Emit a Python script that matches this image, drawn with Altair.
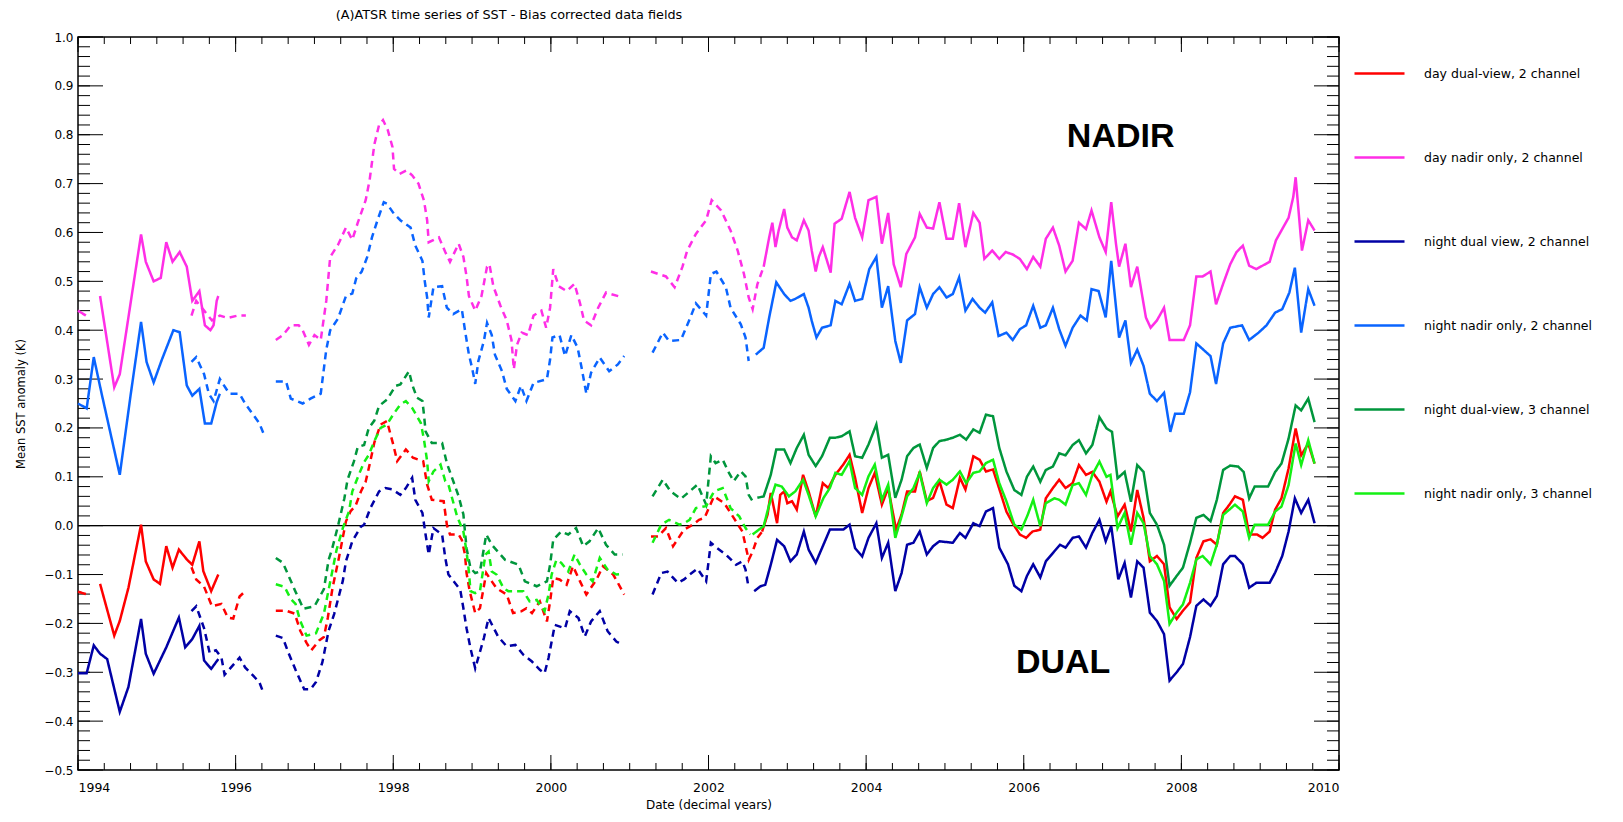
import altair as alt
import pandas as pd
import numpy as np

# ---------------- data (year, anomaly K) ----------------
TITLE = "(A)ATSR time series of SST - Bias corrected data fields"
SERIES_NAMES = [
    "day dual-view, 2 channel",
    "day nadir only, 2 channel",
    "night dual view, 2 channel",
    "night nadir only, 2 channel",
    "night dual-view, 3 channel",
    "night nadir only, 3 channel",
]
SERIES_COLORS = ["#ff0000", "#ff2ee6", "#0000a5", "#0a64ff", "#00963c", "#14f014"]

RED = [
    ("solid", [(1994.0, -0.135), (1994.1, -0.14)]),
    ("solid", [(1994.28, -0.119), (1994.46, -0.225), (1994.53, -0.195), (1994.64, -0.127), (1994.8, 0.002),
               (1994.86, -0.073), (1994.96, -0.11), (1995.04, -0.119), (1995.12, -0.042), (1995.2, -0.086),
               (1995.28, -0.049), (1995.38, -0.069), (1995.45, -0.08), (1995.54, -0.032), (1995.59, -0.093),
               (1995.69, -0.134), (1995.78, -0.1)]),
    ("dashed", [(1995.44, -0.085), (1995.5, -0.11), (1995.6, -0.125), (1995.7, -0.165), (1995.82, -0.16),
                (1995.9, -0.188), (1995.97, -0.19), (1996.05, -0.145), (1996.13, -0.133)]),
    ("dashed", [(1996.51, -0.174), (1996.64, -0.174), (1996.75, -0.18), (1996.82, -0.215), (1996.9, -0.24),
                (1996.96, -0.255), (1997.06, -0.235), (1997.12, -0.228), (1997.17, -0.188), (1997.23, -0.127),
                (1997.31, -0.066), (1997.4, 0.009), (1997.46, 0.03), (1997.52, 0.04), (1997.59, 0.07),
                (1997.65, 0.09), (1997.7, 0.125), (1997.76, 0.17), (1997.84, 0.207), (1997.92, 0.214),
                (1998.0, 0.166), (1998.05, 0.132), (1998.16, 0.156), (1998.25, 0.139), (1998.38, 0.132),
                (1998.43, 0.084), (1998.49, 0.053), (1998.64, 0.05), (1998.68, 0.002), (1998.72, -0.018),
                (1998.83, -0.018), (1998.87, -0.029), (1998.91, -0.059), (1998.93, -0.097), (1998.97, -0.134),
                (1999.04, -0.179), (1999.1, -0.169), (1999.18, -0.097), (1999.25, -0.114), (1999.31, -0.128),
                (1999.44, -0.141), (1999.52, -0.179), (1999.63, -0.175), (1999.69, -0.169), (1999.76, -0.179),
                (1999.86, -0.155), (1999.95, -0.196), (1999.99, -0.155), (2000.03, -0.107), (2000.11, -0.11),
                (2000.2, -0.121), (2000.28, -0.083), (2000.37, -0.114), (2000.45, -0.141), (2000.58, -0.11),
                (2000.66, -0.083), (2000.79, -0.1), (2000.85, -0.117), (2000.93, -0.141)]),
    ("dashed", [(2001.27, -0.022), (2001.36, -0.022), (2001.46, -0.005), (2001.55, -0.042), (2001.69, -0.008),
                (2001.8, 0.002), (2001.88, 0.012), (2001.95, 0.016), (2002.07, 0.06), (2002.2, 0.046),
                (2002.32, 0.016), (2002.43, -0.012), (2002.51, -0.07), (2002.56, -0.053), (2002.62, -0.025),
                (2002.68, -0.012)]),
    ("solid", [(2002.68, -0.012), (2002.75, 0.023), (2002.79, 0.067), (2002.83, 0.036), (2002.87, 0.005),
               (2002.91, 0.063), (2002.96, 0.07), (2003.0, 0.046), (2003.06, 0.05), (2003.12, 0.033),
               (2003.2, 0.104), (2003.27, 0.07), (2003.36, 0.019), (2003.45, 0.087), (2003.52, 0.077),
               (2003.61, 0.104), (2003.71, 0.125), (2003.79, 0.145), (2003.86, 0.098), (2003.95, 0.026),
               (2004.03, 0.077), (2004.11, 0.108), (2004.2, 0.043), (2004.28, 0.077), (2004.38, -0.008),
               (2004.45, 0.023), (2004.52, 0.07), (2004.62, 0.07), (2004.68, 0.111), (2004.77, 0.05),
               (2004.85, 0.057), (2004.93, 0.091), (2005.02, 0.043), (2005.1, 0.036), (2005.19, 0.098),
               (2005.26, 0.074), (2005.36, 0.142), (2005.44, 0.135), (2005.52, 0.111), (2005.61, 0.115),
               (2005.69, 0.075), (2005.78, 0.029), (2005.86, 0.005), (2005.95, -0.018), (2006.03, -0.025),
               (2006.11, -0.012), (2006.21, -0.008), (2006.28, 0.056), (2006.37, 0.077), (2006.45, 0.094),
               (2006.53, 0.077), (2006.62, 0.087), (2006.7, 0.124), (2006.79, 0.104), (2006.87, 0.11),
               (2006.96, 0.09), (2007.05, 0.049), (2007.1, 0.07), (2007.19, 0.019), (2007.28, 0.043),
               (2007.36, -0.012), (2007.44, 0.073), (2007.52, 0.016), (2007.6, -0.073), (2007.69, -0.062),
               (2007.78, -0.079), (2007.85, -0.167), (2007.94, -0.191), (2008.02, -0.174), (2008.11, -0.157),
               (2008.19, -0.066), (2008.28, -0.032), (2008.37, -0.028), (2008.45, -0.039), (2008.53, 0.026),
               (2008.61, 0.043), (2008.68, 0.06), (2008.78, 0.053), (2008.86, -0.018), (2008.96, -0.018),
               (2009.03, -0.025), (2009.12, -0.012), (2009.19, 0.033), (2009.27, 0.056), (2009.36, 0.117),
               (2009.45, 0.199), (2009.52, 0.144), (2009.61, 0.168), (2009.69, 0.127)]),
]

MAGENTA = [
    ("solid", [(1994.0, 0.44), (1994.1, 0.43)]),
    ("solid", [(1994.28, 0.47), (1994.46, 0.283), (1994.53, 0.31), (1994.8, 0.596), (1994.86, 0.54),
               (1994.96, 0.50), (1995.05, 0.507), (1995.12, 0.58), (1995.2, 0.54), (1995.29, 0.56),
               (1995.38, 0.53), (1995.45, 0.46), (1995.54, 0.48), (1995.61, 0.41), (1995.68, 0.40),
               (1995.72, 0.41), (1995.76, 0.46), (1995.78, 0.47)]),
    ("dashed", [(1995.44, 0.43), (1995.5, 0.46), (1995.6, 0.44), (1995.7, 0.42), (1995.8, 0.43),
                (1995.9, 0.425), (1996.03, 0.43), (1996.13, 0.43)]),
    ("dashed", [(1996.51, 0.38), (1996.6, 0.39), (1996.7, 0.41), (1996.8, 0.41), (1996.85, 0.40),
                (1996.93, 0.37), (1997.0, 0.39), (1997.08, 0.38), (1997.15, 0.46), (1997.2, 0.55),
                (1997.3, 0.575), (1997.4, 0.61), (1997.48, 0.585), (1997.55, 0.62), (1997.65, 0.666),
                (1997.7, 0.707), (1997.76, 0.78), (1997.82, 0.82), (1997.87, 0.83), (1997.93, 0.81),
                (1997.99, 0.775), (1998.01, 0.73), (1998.08, 0.72), (1998.17, 0.727), (1998.24, 0.717),
                (1998.32, 0.70), (1998.39, 0.665), (1998.43, 0.625), (1998.45, 0.58), (1998.58, 0.59),
                (1998.66, 0.56), (1998.72, 0.54), (1998.83, 0.577), (1998.89, 0.55), (1998.93, 0.51),
                (1998.96, 0.47), (1999.04, 0.44), (1999.12, 0.47), (1999.19, 0.53), (1999.22, 0.535),
                (1999.27, 0.49), (1999.36, 0.45), (1999.44, 0.42), (1999.5, 0.38), (1999.53, 0.32),
                (1999.57, 0.37), (1999.63, 0.395), (1999.71, 0.39), (1999.78, 0.43), (1999.88, 0.44),
                (1999.94, 0.405), (1999.99, 0.446), (2000.03, 0.525), (2000.1, 0.49), (2000.2, 0.48),
                (2000.3, 0.495), (2000.37, 0.455), (2000.42, 0.42), (2000.51, 0.41), (2000.6, 0.446),
                (2000.7, 0.477), (2000.91, 0.467)]),
    ("dashed", [(2001.27, 0.52), (2001.46, 0.51), (2001.57, 0.488), (2001.67, 0.53), (2001.73, 0.563),
                (2001.84, 0.597), (2001.97, 0.625), (2002.04, 0.666), (2002.16, 0.645), (2002.28, 0.604),
                (2002.37, 0.563), (2002.45, 0.515), (2002.51, 0.467), (2002.56, 0.443), (2002.62, 0.494),
                (2002.7, 0.53)]),
    ("solid", [(2002.7, 0.53), (2002.77, 0.59), (2002.81, 0.62), (2002.85, 0.57), (2002.89, 0.604),
               (2002.96, 0.648), (2003.0, 0.61), (2003.06, 0.59), (2003.12, 0.584), (2003.21, 0.625),
               (2003.27, 0.604), (2003.31, 0.563), (2003.36, 0.52), (2003.4, 0.55), (2003.45, 0.57),
               (2003.55, 0.518), (2003.6, 0.618), (2003.69, 0.628), (2003.79, 0.683), (2003.86, 0.63),
               (2003.95, 0.59), (2004.03, 0.666), (2004.13, 0.673), (2004.2, 0.577), (2004.28, 0.64),
               (2004.35, 0.535), (2004.44, 0.488), (2004.51, 0.556), (2004.62, 0.59), (2004.68, 0.638),
               (2004.77, 0.61), (2004.85, 0.608), (2004.93, 0.662), (2005.02, 0.587), (2005.1, 0.587),
               (2005.18, 0.66), (2005.26, 0.57), (2005.36, 0.64), (2005.44, 0.62), (2005.5, 0.546),
               (2005.6, 0.563), (2005.69, 0.546), (2005.77, 0.56), (2005.86, 0.555), (2005.95, 0.546),
               (2006.04, 0.525), (2006.12, 0.55), (2006.21, 0.53), (2006.28, 0.587), (2006.37, 0.61),
               (2006.45, 0.573), (2006.53, 0.52), (2006.62, 0.542), (2006.7, 0.62), (2006.79, 0.607),
               (2006.86, 0.645), (2006.96, 0.59), (2007.04, 0.56), (2007.11, 0.662), (2007.17, 0.577),
               (2007.21, 0.53), (2007.29, 0.577), (2007.36, 0.488), (2007.44, 0.53), (2007.55, 0.426),
               (2007.61, 0.405), (2007.69, 0.42), (2007.78, 0.446), (2007.85, 0.38), (2008.03, 0.38),
               (2008.11, 0.41), (2008.19, 0.51), (2008.27, 0.51), (2008.37, 0.52), (2008.44, 0.453),
               (2008.53, 0.495), (2008.62, 0.535), (2008.7, 0.56), (2008.78, 0.573), (2008.86, 0.532),
               (2008.95, 0.525), (2009.12, 0.54), (2009.2, 0.584), (2009.36, 0.63), (2009.42, 0.673),
               (2009.45, 0.713), (2009.53, 0.563), (2009.61, 0.625), (2009.69, 0.604)]),
]

NAVY = [
    ("solid", [(1994.0, -0.302), (1994.11, -0.302), (1994.2, -0.245), (1994.28, -0.262), (1994.37, -0.273),
               (1994.53, -0.381), (1994.64, -0.33), (1994.8, -0.191), (1994.86, -0.262), (1994.96, -0.303),
               (1995.12, -0.249), (1995.28, -0.188), (1995.36, -0.249), (1995.45, -0.232), (1995.54, -0.205),
               (1995.6, -0.276), (1995.69, -0.293), (1995.78, -0.273)]),
    ("dashed", [(1995.44, -0.175), (1995.5, -0.165), (1995.6, -0.21), (1995.67, -0.26), (1995.75, -0.255),
                (1995.82, -0.27), (1995.86, -0.305), (1996.05, -0.27), (1996.12, -0.29), (1996.3, -0.32),
                (1996.36, -0.345)]),
    ("dashed", [(1996.51, -0.225), (1996.6, -0.23), (1996.67, -0.26), (1996.76, -0.295), (1996.87, -0.335),
                (1996.95, -0.335), (1997.02, -0.32), (1997.1, -0.28), (1997.18, -0.215), (1997.25, -0.181),
                (1997.36, -0.113), (1997.4, -0.073), (1997.48, -0.032), (1997.59, -0.002), (1997.63, 0.002),
                (1997.71, 0.036), (1997.82, 0.07), (1997.9, 0.077), (1997.99, 0.074), (1998.09, 0.063),
                (1998.16, 0.077), (1998.24, 0.098), (1998.28, 0.053), (1998.37, 0.026), (1998.41, -0.018),
                (1998.45, -0.059), (1998.51, -0.005), (1998.62, -0.018), (1998.66, -0.066), (1998.7, -0.1),
                (1998.85, -0.131), (1998.89, -0.169), (1998.93, -0.21), (1998.98, -0.251), (1999.04, -0.292),
                (1999.09, -0.264), (1999.15, -0.23), (1999.21, -0.189), (1999.33, -0.227), (1999.44, -0.247),
                (1999.55, -0.244), (1999.65, -0.264), (1999.76, -0.278), (1999.86, -0.295), (1999.92, -0.302),
                (1999.97, -0.271), (2000.01, -0.237), (2000.05, -0.203), (2000.18, -0.21), (2000.24, -0.175),
                (2000.35, -0.189), (2000.43, -0.227), (2000.51, -0.196), (2000.62, -0.175), (2000.72, -0.216),
                (2000.83, -0.237), (2000.91, -0.244)]),
    ("dashed", [(2001.29, -0.141), (2001.4, -0.097), (2001.48, -0.094), (2001.61, -0.117), (2001.69, -0.11),
                (2001.76, -0.1), (2001.86, -0.088), (2001.97, -0.114), (2002.03, -0.035), (2002.11, -0.046),
                (2002.22, -0.059), (2002.35, -0.08), (2002.43, -0.073), (2002.47, -0.09), (2002.51, -0.128)]),
    ("solid", [(2002.58, -0.134), (2002.66, -0.124), (2002.72, -0.121), (2002.79, -0.08), (2002.87, -0.029),
               (2002.96, -0.042), (2003.04, -0.073), (2003.12, -0.059), (2003.21, -0.012), (2003.27, -0.049),
               (2003.36, -0.076), (2003.44, -0.046), (2003.54, -0.008), (2003.71, -0.008), (2003.79, 0.002),
               (2003.86, -0.046), (2003.95, -0.063), (2004.03, -0.025), (2004.13, 0.005), (2004.2, -0.066),
               (2004.28, -0.035), (2004.37, -0.134), (2004.45, -0.097), (2004.52, -0.039), (2004.6, -0.035),
               (2004.68, -0.012), (2004.77, -0.059), (2004.85, -0.042), (2004.93, -0.032), (2005.1, -0.035),
               (2005.19, -0.015), (2005.26, -0.025), (2005.36, 0.005), (2005.44, -0.001), (2005.52, 0.029),
               (2005.61, 0.036), (2005.69, -0.045), (2005.8, -0.079), (2005.88, -0.123), (2005.97, -0.134),
               (2006.04, -0.103), (2006.12, -0.079), (2006.21, -0.106), (2006.28, -0.073), (2006.37, -0.056),
               (2006.46, -0.039), (2006.53, -0.045), (2006.62, -0.025), (2006.7, -0.022), (2006.79, -0.045),
               (2006.87, -0.015), (2006.96, 0.012), (2007.04, -0.032), (2007.11, -0.001), (2007.2, -0.11),
               (2007.28, -0.076), (2007.36, -0.147), (2007.44, -0.073), (2007.52, -0.086), (2007.6, -0.178),
               (2007.69, -0.195), (2007.78, -0.222), (2007.85, -0.317), (2007.94, -0.3), (2008.02, -0.283),
               (2008.11, -0.228), (2008.19, -0.164), (2008.28, -0.151), (2008.37, -0.164), (2008.45, -0.144),
               (2008.53, -0.079), (2008.62, -0.062), (2008.68, -0.062), (2008.78, -0.079), (2008.86, -0.127),
               (2008.95, -0.117), (2009.12, -0.117), (2009.19, -0.096), (2009.28, -0.062), (2009.36, -0.012),
               (2009.44, 0.056), (2009.52, 0.026), (2009.61, 0.053), (2009.69, 0.005)]),
]

SKY = [
    ("solid", [(1994.0, 0.25), (1994.11, 0.24), (1994.2, 0.345), (1994.3, 0.27), (1994.53, 0.104),
               (1994.67, 0.27), (1994.8, 0.417), (1994.87, 0.335), (1994.96, 0.293), (1995.06, 0.338),
               (1995.21, 0.40), (1995.29, 0.396), (1995.38, 0.287), (1995.45, 0.266), (1995.54, 0.28),
               (1995.61, 0.209), (1995.69, 0.209), (1995.76, 0.253), (1995.8, 0.27)]),
    ("dashed", [(1995.44, 0.335), (1995.5, 0.345), (1995.6, 0.31), (1995.66, 0.27), (1995.72, 0.255),
                (1995.8, 0.30), (1995.92, 0.27), (1996.05, 0.27), (1996.12, 0.25), (1996.3, 0.21),
                (1996.35, 0.19)]),
    ("dashed", [(1996.51, 0.295), (1996.64, 0.295), (1996.7, 0.26), (1996.85, 0.25), (1996.95, 0.26),
                (1997.08, 0.27), (1997.15, 0.36), (1997.2, 0.40), (1997.3, 0.424), (1997.4, 0.47),
                (1997.48, 0.475), (1997.53, 0.506), (1997.6, 0.52), (1997.67, 0.55), (1997.73, 0.59),
                (1997.8, 0.625), (1997.88, 0.662), (1997.92, 0.659), (1998.01, 0.638), (1998.09, 0.625),
                (1998.22, 0.61), (1998.28, 0.573), (1998.37, 0.542), (1998.4, 0.5), (1998.43, 0.467),
                (1998.45, 0.426), (1998.51, 0.488), (1998.62, 0.49), (1998.68, 0.446), (1998.76, 0.433),
                (1998.87, 0.443), (1998.91, 0.4), (1998.96, 0.35), (1999.0, 0.323), (1999.04, 0.29),
                (1999.08, 0.337), (1999.15, 0.378), (1999.19, 0.415), (1999.25, 0.39), (1999.29, 0.35),
                (1999.38, 0.316), (1999.44, 0.28), (1999.55, 0.255), (1999.62, 0.286), (1999.69, 0.255),
                (1999.78, 0.292), (1999.95, 0.3), (1999.99, 0.34), (2000.02, 0.385), (2000.11, 0.39),
                (2000.18, 0.347), (2000.26, 0.39), (2000.34, 0.364), (2000.39, 0.323), (2000.45, 0.27),
                (2000.51, 0.313), (2000.62, 0.344), (2000.74, 0.316), (2000.85, 0.33), (2000.93, 0.347)]),
    ("dashed", [(2001.29, 0.354), (2001.42, 0.395), (2001.5, 0.378), (2001.65, 0.38), (2001.76, 0.422),
                (2001.84, 0.455), (2001.97, 0.43), (2002.03, 0.515), (2002.1, 0.52), (2002.22, 0.488),
                (2002.28, 0.446), (2002.41, 0.412), (2002.47, 0.385), (2002.51, 0.337)]),
    ("solid", [(2002.6, 0.35), (2002.7, 0.364), (2002.77, 0.426), (2002.86, 0.498), (2002.96, 0.474),
               (2003.04, 0.46), (2003.1, 0.464), (2003.21, 0.474), (2003.27, 0.446), (2003.31, 0.419),
               (2003.37, 0.385), (2003.44, 0.405), (2003.55, 0.41), (2003.61, 0.46), (2003.69, 0.453),
               (2003.79, 0.495), (2003.86, 0.46), (2003.95, 0.464), (2004.04, 0.525), (2004.13, 0.55),
               (2004.2, 0.446), (2004.28, 0.49), (2004.37, 0.378), (2004.44, 0.333), (2004.52, 0.42),
               (2004.62, 0.433), (2004.68, 0.488), (2004.77, 0.446), (2004.85, 0.474), (2004.93, 0.488),
               (2005.02, 0.467), (2005.1, 0.474), (2005.18, 0.508), (2005.26, 0.44), (2005.35, 0.464),
               (2005.44, 0.446), (2005.51, 0.436), (2005.6, 0.457), (2005.68, 0.388), (2005.78, 0.395),
               (2005.86, 0.38), (2005.95, 0.402), (2006.03, 0.41), (2006.12, 0.45), (2006.21, 0.405),
               (2006.28, 0.41), (2006.37, 0.446), (2006.45, 0.402), (2006.53, 0.368), (2006.62, 0.405),
               (2006.72, 0.43), (2006.8, 0.42), (2006.86, 0.484), (2006.95, 0.48), (2007.04, 0.426),
               (2007.11, 0.542), (2007.21, 0.385), (2007.29, 0.42), (2007.36, 0.333), (2007.44, 0.36),
               (2007.52, 0.327), (2007.6, 0.27), (2007.69, 0.255), (2007.78, 0.272), (2007.86, 0.192),
               (2007.92, 0.229), (2008.03, 0.229), (2008.11, 0.273), (2008.19, 0.373), (2008.37, 0.347),
               (2008.44, 0.29), (2008.53, 0.373), (2008.62, 0.405), (2008.77, 0.41), (2008.86, 0.38),
               (2008.98, 0.395), (2009.08, 0.41), (2009.19, 0.436), (2009.28, 0.443), (2009.37, 0.477),
               (2009.44, 0.528), (2009.52, 0.395), (2009.61, 0.484), (2009.69, 0.45)]),
]

GREEN = [
    ("dashed", [(1996.51, -0.066), (1996.6, -0.076), (1996.76, -0.135), (1996.86, -0.17), (1997.0, -0.165),
                (1997.12, -0.13), (1997.18, -0.07), (1997.22, -0.05), (1997.3, 0.0), (1997.38, 0.056),
                (1997.42, 0.094), (1997.5, 0.131), (1997.55, 0.161), (1997.63, 0.165), (1997.69, 0.2),
                (1997.76, 0.215), (1997.82, 0.245), (1997.92, 0.258), (1998.03, 0.286), (1998.09, 0.289),
                (1998.2, 0.316), (1998.24, 0.289), (1998.3, 0.262), (1998.37, 0.255), (1998.39, 0.227),
                (1998.41, 0.193), (1998.49, 0.169), (1998.62, 0.169), (1998.68, 0.128), (1998.83, 0.06),
                (1998.89, 0.023), (1998.91, -0.012), (1998.93, -0.046), (1998.98, -0.087), (1999.04, -0.097),
                (1999.1, -0.094), (1999.18, -0.018), (1999.25, -0.039), (1999.42, -0.07), (1999.59, -0.08),
                (1999.67, -0.114), (1999.82, -0.124), (1999.95, -0.114), (1999.99, -0.08), (2000.03, -0.029),
                (2000.13, -0.012), (2000.22, -0.018), (2000.32, -0.005), (2000.41, -0.042), (2000.49, -0.032),
                (2000.6, -0.005), (2000.7, -0.039), (2000.81, -0.059), (2000.91, -0.059)]),
    ("dashed", [(2001.29, 0.06), (2001.42, 0.094), (2001.52, 0.07), (2001.65, 0.055), (2001.76, 0.07),
                (2001.86, 0.084), (2001.97, 0.043), (2002.03, 0.142), (2002.09, 0.128), (2002.18, 0.135),
                (2002.26, 0.108), (2002.32, 0.091), (2002.41, 0.111), (2002.47, 0.101), (2002.51, 0.063),
                (2002.56, 0.05)]),
    ("solid", [(2002.62, 0.057), (2002.7, 0.06), (2002.79, 0.104), (2002.86, 0.156), (2002.96, 0.156),
               (2003.04, 0.128), (2003.12, 0.159), (2003.21, 0.186), (2003.27, 0.145), (2003.36, 0.122),
               (2003.44, 0.142), (2003.54, 0.18), (2003.61, 0.18), (2003.69, 0.183), (2003.79, 0.193),
               (2003.86, 0.142), (2003.95, 0.139), (2004.03, 0.166), (2004.13, 0.207), (2004.2, 0.139),
               (2004.28, 0.145), (2004.37, 0.057), (2004.45, 0.094), (2004.52, 0.142), (2004.6, 0.159),
               (2004.68, 0.166), (2004.77, 0.118), (2004.85, 0.159), (2004.93, 0.173), (2005.02, 0.176),
               (2005.1, 0.18), (2005.19, 0.186), (2005.27, 0.176), (2005.36, 0.197), (2005.44, 0.19),
               (2005.52, 0.227), (2005.61, 0.224), (2005.69, 0.159), (2005.78, 0.111), (2005.88, 0.073),
               (2005.97, 0.063), (2006.04, 0.1), (2006.12, 0.121), (2006.21, 0.09), (2006.28, 0.114),
               (2006.37, 0.121), (2006.45, 0.148), (2006.53, 0.144), (2006.62, 0.165), (2006.7, 0.175),
               (2006.79, 0.148), (2006.87, 0.165), (2006.96, 0.222), (2007.05, 0.199), (2007.12, 0.192),
               (2007.19, 0.097), (2007.28, 0.11), (2007.36, 0.049), (2007.44, 0.124), (2007.52, 0.11),
               (2007.6, 0.026), (2007.69, 0.002), (2007.78, -0.039), (2007.85, -0.123), (2007.94, -0.103),
               (2008.02, -0.086), (2008.11, -0.035), (2008.19, 0.016), (2008.28, 0.022), (2008.37, 0.009),
               (2008.45, 0.053), (2008.53, 0.114), (2008.62, 0.123), (2008.72, 0.121), (2008.79, 0.11),
               (2008.86, 0.056), (2008.93, 0.08), (2009.1, 0.08), (2009.19, 0.11), (2009.27, 0.127),
               (2009.36, 0.178), (2009.45, 0.246), (2009.52, 0.236), (2009.61, 0.26), (2009.69, 0.212)]),
]

LIME = [
    ("dashed", [(1996.51, -0.12), (1996.62, -0.125), (1996.7, -0.15), (1996.76, -0.16), (1996.82, -0.195),
                (1996.9, -0.225), (1997.02, -0.22), (1997.12, -0.18), (1997.2, -0.115), (1997.28, -0.05),
                (1997.36, -0.005), (1997.44, 0.03), (1997.48, 0.07), (1997.57, 0.107), (1997.63, 0.13),
                (1997.69, 0.145), (1997.76, 0.173), (1997.84, 0.2), (1997.92, 0.207), (1998.01, 0.23),
                (1998.09, 0.248), (1998.16, 0.255), (1998.24, 0.241), (1998.35, 0.21), (1998.39, 0.176),
                (1998.43, 0.132), (1998.45, 0.091), (1998.51, 0.111), (1998.6, 0.125), (1998.66, 0.091),
                (1998.7, 0.084), (1998.81, 0.019), (1998.89, -0.012), (1998.93, -0.053), (1998.96, -0.094),
                (1998.98, -0.134), (1999.04, -0.138), (1999.1, -0.134), (1999.17, -0.059), (1999.21, -0.053),
                (1999.25, -0.094), (1999.31, -0.1), (1999.4, -0.128), (1999.46, -0.134), (1999.55, -0.134),
                (1999.65, -0.134), (1999.73, -0.155), (1999.82, -0.152), (1999.92, -0.175), (1999.97, -0.141),
                (2000.01, -0.1), (2000.07, -0.07), (2000.13, -0.076), (2000.22, -0.094), (2000.3, -0.059),
                (2000.37, -0.08), (2000.45, -0.1), (2000.53, -0.114), (2000.62, -0.066), (2000.72, -0.09),
                (2000.83, -0.1), (2000.91, -0.099)]),
    ("dashed", [(2001.29, -0.035), (2001.4, 0.002), (2001.5, 0.012), (2001.63, 0.002), (2001.69, 0.005),
                (2001.76, 0.012), (2001.84, 0.036), (2001.97, 0.04), (2002.07, 0.07), (2002.18, 0.077),
                (2002.28, 0.036), (2002.39, 0.019), (2002.47, -0.005), (2002.53, -0.018)]),
    ("solid", [(2002.56, -0.018), (2002.64, -0.008), (2002.7, -0.001), (2002.77, 0.043), (2002.85, 0.084),
               (2002.93, 0.08), (2003.02, 0.06), (2003.1, 0.07), (2003.2, 0.094), (2003.27, 0.063),
               (2003.36, 0.019), (2003.46, 0.057), (2003.54, 0.077), (2003.61, 0.108), (2003.69, 0.104),
               (2003.79, 0.132), (2003.86, 0.077), (2003.95, 0.063), (2004.03, 0.101), (2004.11, 0.125),
               (2004.2, 0.053), (2004.28, 0.084), (2004.37, -0.025), (2004.45, 0.019), (2004.52, 0.06),
               (2004.6, 0.077), (2004.68, 0.108), (2004.77, 0.046), (2004.85, 0.077), (2004.93, 0.094),
               (2005.02, 0.084), (2005.1, 0.094), (2005.19, 0.111), (2005.27, 0.087), (2005.36, 0.108),
               (2005.44, 0.111), (2005.52, 0.128), (2005.61, 0.135), (2005.69, 0.087), (2005.78, 0.05),
               (2005.88, 0.002), (2005.97, -0.008), (2006.05, 0.022), (2006.12, 0.053), (2006.21, -0.001),
               (2006.28, 0.046), (2006.39, 0.056), (2006.45, 0.053), (2006.53, 0.043), (2006.62, 0.083),
               (2006.7, 0.087), (2006.79, 0.063), (2006.87, 0.104), (2006.96, 0.131), (2007.05, 0.1),
               (2007.1, 0.104), (2007.19, -0.005), (2007.28, 0.026), (2007.36, -0.039), (2007.44, 0.026),
               (2007.52, 0.005), (2007.6, -0.062), (2007.69, -0.079), (2007.78, -0.113), (2007.85, -0.201),
               (2007.94, -0.178), (2008.02, -0.161), (2008.11, -0.117), (2008.19, -0.069), (2008.27, -0.062),
               (2008.37, -0.079), (2008.45, -0.039), (2008.53, 0.022), (2008.61, 0.033), (2008.68, 0.043),
               (2008.78, 0.029), (2008.86, -0.025), (2008.93, 0.002), (2009.1, 0.002), (2009.19, 0.029),
               (2009.27, 0.039), (2009.36, 0.083), (2009.45, 0.168), (2009.52, 0.124), (2009.61, 0.175),
               (2009.69, 0.127)]),
]

X_LABEL_YEARS = [1994, 1996, 1998, 2000, 2002, 2004, 2006, 2008, 2010]
Y_LABEL_VALUES = [-0.5, -0.4, -0.3, -0.2, -0.1, 0.0, 0.1, 0.2, 0.3, 0.4, 0.5, 0.6, 0.7, 0.8, 0.9, 1.0]
ANNOTATIONS = [("NADIR", 2007.23, 0.795), ("DUAL", 2006.5, -0.281)]

# ---------------- build tables ----------------
ALL_SERIES = [RED, MAGENTA, NAVY, SKY, GREEN, LIME]
frames = []
for name, segs in zip(SERIES_NAMES, ALL_SERIES):
    rows = []
    for i, (style, pts) in enumerate(segs):
        for yr, v in pts:
            rows.append({"series": name, "seg": f"{name}#{i}", "style": style, "year": yr, "value": v})
    frames.append(pd.DataFrame(rows))

W, H = 1261, 733
FONT = "DejaVu Sans"

x_scale = alt.Scale(domain=[1994, 2010], nice=False, zero=False)
y_scale = alt.Scale(domain=[-0.5, 1.0], nice=False, zero=False)
x_axis = alt.Axis(values=X_LABEL_YEARS, format="d", ticks=False, domain=False, grid=False,
                  labelPadding=11, labelFontSize=12.5, labelFont=FONT, labelColor="black",
                  title="Date (decimal years)", titleFont=FONT, titleFontSize=12, titleFontWeight="normal",
                  titleColor="black", titleY=29, titleBaseline="top")
y_axis = alt.Axis(values=Y_LABEL_VALUES, format=".1f", ticks=False, domain=False, grid=False,
                  labelPadding=5, labelFontSize=12, labelFont=FONT, labelColor="black",
                  title="Mean SST anomaly (K)", titleFont=FONT, titleFontSize=11.5, titleFontWeight="normal",
                  titleColor="black", titleX=-57, titleY=H / 2, titleAngle=270, titleAlign="center",
                  titleBaseline="middle")

def X(field="year"):
    return alt.X(f"{field}:Q", scale=x_scale, axis=x_axis)

def Y(field="value"):
    return alt.Y(f"{field}:Q", scale=y_scale, axis=y_axis)

color = alt.Color("series:N", scale=alt.Scale(domain=SERIES_NAMES, range=SERIES_COLORS),
                  legend=alt.Legend(title=None, orient="none", legendX=1275, legendY=10, padding=0,
                                    symbolType="stroke", symbolSize=2500, symbolStrokeWidth=2.5,
                                    rowPadding=51, labelOffset=18, labelFont=FONT, labelFontSize=12.5,
                                    labelColor="black", labelLimit=400))
dash = alt.StrokeDash("style:N", scale=alt.Scale(domain=["solid", "dashed"], range=[[1, 0], [7, 5]]),
                      legend=None)

# ticks (inward, IDL style)
y_major = pd.DataFrame({"value": np.round(np.arange(-0.5, 1.0001, 0.1), 3)})
y_minor = pd.DataFrame({"value": np.round(np.arange(-0.5, 1.0001, 0.02), 3)})
x_major = pd.DataFrame({"year": np.arange(1994, 2010.001, 2.0)})
x_minor = pd.DataFrame({"year": 1994 + np.arange(0, 49) / 3.0})

tick_layers = []
for df, L in [(y_major, 25), (y_minor, 12)]:
    tick_layers.append(alt.Chart(df).mark_rule(color="black", strokeWidth=1).encode(
        y=Y(), x=alt.value(0), x2=alt.value(L)))
    tick_layers.append(alt.Chart(df).mark_rule(color="black", strokeWidth=1).encode(
        y=Y(), x=alt.value(W), x2=alt.value(W - L)))
for df, L in [(x_major, 15), (x_minor, 7)]:
    tick_layers.append(alt.Chart(df).mark_rule(color="black", strokeWidth=1).encode(
        x=X(), y=alt.value(H), y2=alt.value(H - L)))
    tick_layers.append(alt.Chart(df).mark_rule(color="black", strokeWidth=1).encode(
        x=X(), y=alt.value(0), y2=alt.value(L)))

zero = alt.Chart(pd.DataFrame({"value": [0.0]})).mark_rule(color="black", strokeWidth=1.2).encode(y=Y())

line_layers = [
    alt.Chart(df).mark_line(strokeWidth=2.5).encode(
        x=X(), y=Y(), color=color, strokeDash=dash, detail="seg:N", order="year:Q")
    for df in frames
]

ann = pd.DataFrame({"label": [a[0] for a in ANNOTATIONS], "year": [a[1] for a in ANNOTATIONS],
                    "value": [a[2] for a in ANNOTATIONS]})
text = alt.Chart(ann).mark_text(font="Liberation Sans", fontSize=34, fontWeight="bold", color="black",
                                align="center", baseline="middle").encode(x=X(), y=Y(), text="label:N")

# chart title drawn as a text mark above the frame
title = alt.Chart(pd.DataFrame({"t": [TITLE]})).mark_text(
    font=FONT, fontSize=12.8, color="black", align="center", baseline="alphabetic"
).encode(text="t:N", x=alt.value(431), y=alt.value(-18))

chart = alt.layer(zero, *tick_layers, *line_layers, text, title).properties(
    width=W, height=H,
    padding={"left": 70, "top": 29, "right": 276, "bottom": 40},
    autosize=alt.AutoSizeParams(type="none"),
).configure_view(stroke="black", strokeWidth=1.5)

chart.save("out.html", embed_options={"renderer": "svg", "actions": False})
